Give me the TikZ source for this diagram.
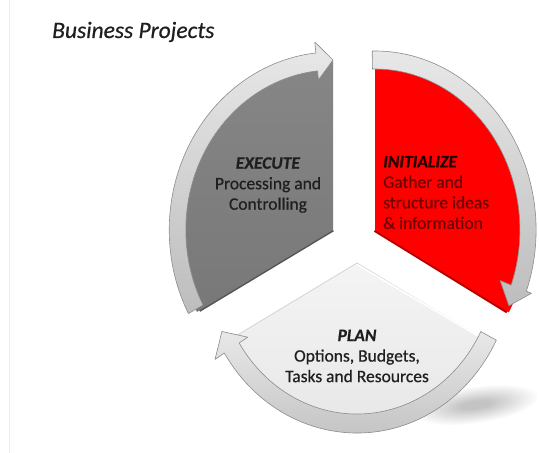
\documentclass[tikz,border=0pt]{standalone}
\usepackage{fontspec}
\setmainfont{Carlito}[RawFeature={embolden=0.6}]
\definecolor{secgray}{HTML}{7F7F7F}
\definecolor{secgraytop}{HTML}{868686}
\definecolor{secgraybot}{HTML}{787878}
\definecolor{secred}{HTML}{FF0000}
\definecolor{secrededge}{HTML}{B80000}
\definecolor{planfilltop}{HTML}{F4F4F4}
\definecolor{planfillbot}{HTML}{E6E6E6}
\definecolor{planedge}{HTML}{D4D4D4}
\definecolor{bandtop}{HTML}{E8E8E8}
\definecolor{bandbot}{HTML}{BDBDBD}
\definecolor{bandline}{HTML}{8C8C8C}
\definecolor{frameline}{HTML}{ECECEC}
\definecolor{txtdark}{HTML}{1F1F1F}
\definecolor{txtred}{HTML}{700000}
\definecolor{txtredhead}{HTML}{200000}
\begin{document}
\begin{tikzpicture}[x=1pt,y=1pt,
  band/.style={top color=bandtop, bottom color=bandbot, draw=bandline, line width=0.6pt, line join=round},
  lbl/.style={font=\fontsize{17.5}{20.5}\selectfont, inner sep=0pt},
  shadowlayer/.style={fill=black, fill opacity=0.02}]
\fill[white] (0,0) rectangle (539,453);
\useasboundingbox (0,0) rectangle (539,453);
\draw[frameline, line width=0.8pt] (9.5,0) -- (9.5,453);

% soft shadow to the lower right of PLAN
\begin{scope}[rotate around={8:(476,48)}]
  \foreach \i in {0,...,11}{
    \fill[shadowlayer] (476,48) ellipse[x radius={62-4.2*\i}, y radius={18-1.25*\i}];
  }
\end{scope}

% PLAN sector
\begin{scope}[shift={(357,190)}, xscale=0.92]
  \path[top color=planfilltop, bottom color=planfillbot]
    (0,0) -- (209:160) arc[start angle=209, end angle=331, radius=160] -- cycle;
  \draw[planedge, line width=0.8pt] (209:160) -- (0,0) -- (331:160);
  \draw[white, line width=1.6pt] (0,-1.5) -- (331:158);
  \path[band]
    (333:151) arc[start angle=333, end angle=212, radius=151]
    -- (212:140) -- (205:162) -- (212:182) -- (212:170)
    arc[start angle=212, end angle=333, radius=170] -- cycle;
\end{scope}

% EXECUTE sector
\begin{scope}[shift={(333,223)}, xscale=0.92]
  \draw[secgraybot!70!black, line width=3pt] (0,0) -- (209:166);
  \path[top color=secgraytop, bottom color=secgraybot]
    (0,0) -- (90:169) arc[start angle=90, end angle=209, radius=169] -- cycle;
  \path[band]
    (208:160) arc[start angle=208, end angle=96, radius=160]
    -- (96:151) -- (90:170) -- (96:189) -- (96:178)
    arc[start angle=96, end angle=208, radius=178] -- cycle;
\end{scope}

% INITIALIZE sector
\begin{scope}[shift={(375,223)}, xscale=0.9]
  \draw[secrededge, line width=4pt] (0,0) -- (-29:168);
  \fill[secred]
    (0,0) -- (90:170) arc[start angle=90, end angle=-29, radius=170] -- cycle;
  \path[band]
    (91:161) arc[start angle=91, end angle=-20, radius=161]
    -- (-20:148) -- (-27:167) -- (-20:185) -- (-20:179)
    arc[start angle=-20, end angle=91, radius=179] -- cycle;
\end{scope}

% Title
\node[anchor=base west, inner sep=0pt, text=txtdark,
      font=\fontsize{23.5}{28}\selectfont\itshape] (title) at (52,415) {Business Projects};

% Labels
\node[lbl, align=center, text=txtdark] (execute) at (268,268)
  {\textbf{\textit{EXECUTE}}\\Processing and\\Controlling};
\node[lbl, align=left, anchor=west, text=txtred] (initialize) at (383,260.5)
  {\textcolor{txtredhead}{\textbf{\textit{INITIALIZE}}}\\Gather and\\structure ideas\\\& information};
\node[lbl, align=center, text=txtdark] (plan) at (357,97)
  {\textbf{\textit{PLAN}}\\Options, Budgets,\\Tasks and Resources};
\end{tikzpicture}
\end{document}
